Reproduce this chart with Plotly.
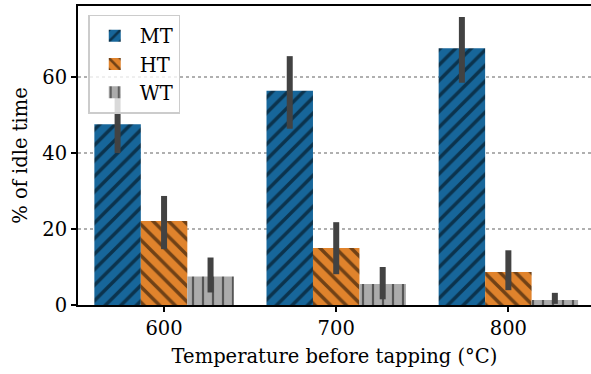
import plotly.graph_objects as go

categories = ["600", "700", "800"]
series_names = ["MT", "HT", "WT"]
mt_values = [47.6, 56.4, 67.6]
mt_low = [40.0, 46.4, 58.5]
mt_high = [55.5, 65.5, 75.8]
ht_values = [22.1, 15.0, 8.7]
ht_low = [14.7, 8.1, 3.9]
ht_high = [28.7, 21.8, 14.4]
wt_values = [7.5, 5.5, 1.3]
wt_low = [3.3, 1.5, 0.3]
wt_high = [12.5, 10.0, 3.2]
y_ticks = [0, 20, 40, 60]

colors = ["#17669A", "#E0832C", "#ABABAB"]
patterns = [dict(shape="/", size=11, solidity=0.32),
            dict(shape="\\", size=11, solidity=0.32),
            dict(shape="|", size=10, solidity=0.22)]

FONT = "DejaVu Serif"
FS = 19.5
fig = go.Figure()
data = [(mt_values, mt_low, mt_high), (ht_values, ht_low, ht_high), (wt_values, wt_low, wt_high)]
for name, (vals, lo, hi), col, pat in zip(series_names, data, colors, patterns):
    fig.add_trace(go.Bar(
        x=categories, y=vals, name=name,
        marker=dict(color=col, line=dict(width=0),
                    pattern=dict(fgcolor="black", bgcolor=col, fillmode="overlay", **pat)),
        error_y=dict(type="data", symmetric=False,
                     array=[h - v for h, v in zip(hi, vals)],
                     arrayminus=[v - l for v, l in zip(vals, lo)],
                     color="#424242", thickness=6, width=0),
    ))

fig.update_layout(
    width=591, height=374,
    margin=dict(l=78, r=0, t=6, b=69),
    plot_bgcolor="white", paper_bgcolor="white",
    barmode="group", bargap=0.19, bargroupgap=0,
    font=dict(family=FONT, size=FS, color="black"),
    legend=dict(x=0.02, y=0.97, xanchor="left", yanchor="top",
                bgcolor="rgba(255,255,255,0.8)", bordercolor="#cccccc", borderwidth=1.5,
                font=dict(family=FONT, size=FS), itemwidth=40, tracegroupgap=0),
    xaxis=dict(type="category", range=[-0.5, 2.48], showline=True, linecolor="black", linewidth=1.8,
               mirror=True, ticks="outside", ticklen=5, tickwidth=1.5, tickcolor="black",
               showgrid=False, tickfont=dict(family=FONT, size=FS),
               title=dict(text="Temperature before tapping (°C)", standoff=10,
                          font=dict(family=FONT, size=FS))),
    yaxis=dict(range=[0, 78.7], tickvals=y_ticks, showline=True, linecolor="black", linewidth=1.8,
               ticks="outside", ticklen=5, tickwidth=1.5, tickcolor="black",
               showgrid=True, gridcolor="#b0b0b0", griddash="dot", gridwidth=1.5,
               zeroline=False, tickfont=dict(family=FONT, size=FS),
               title=dict(text="% of idle time", standoff=10, font=dict(family=FONT, size=FS))),
)

fig.write_html("out.html")
